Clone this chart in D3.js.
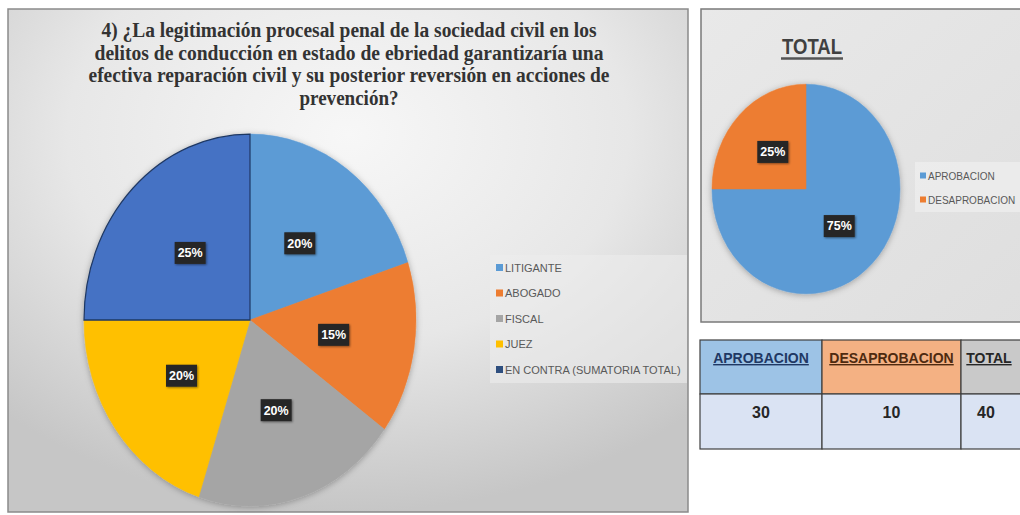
<!DOCTYPE html>
<html>
<head>
<meta charset="utf-8">
<script src="https://cdn.jsdelivr.net/npm/d3@7"></script>
<style>
  body { margin: 0; background: #fff; }
  svg { display: block; }
</style>
</head>
<body>
<div id="chart"></div>
<script>
// data
const titleLines = [
  "4) ¿La legitimación procesal penal de la sociedad civil en los",
  "delitos de conducción en estado de ebriedad garantizaría una",
  "efectiva reparación civil y su posterior reversión en acciones de",
  "prevención?"
];
const titleWidths = [495, 509, 521, 99];
const roles = ["LITIGANTE", "ABOGADO", "FISCAL", "JUEZ", "EN CONTRA (SUMATORIA TOTAL)"];
const roleCounts = [8, 6, 8, 8, 10];
const roleColors = ["#5b9bd5", "#ed7d31", "#a5a5a5", "#ffc000", "#4472c4"];

const totalTitle = "TOTAL";
const totalCats = ["APROBACION", "DESAPROBACION"];
const totalCounts = [30, 10];
const totalColors = ["#5b9bd5", "#ed7d31"];

const tableHeaders = ["APROBACION", "DESAPROBACION", "TOTAL"];
const tableValues = [totalCounts[0], totalCounts[1], d3.sum(totalCounts)];

const W = 1020, H = 515;
const svg = d3.select("#chart").append("svg").attr("width", W).attr("height", H);
const defs = svg.append("defs");

// left panel background
const rg = defs.append("radialGradient").attr("id", "bgLeft")
  .attr("cx", "50%").attr("cy", "25%").attr("r", "75%");
rg.append("stop").attr("offset", "0%").attr("stop-color", "#f7f7f7");
rg.append("stop").attr("offset", "55%").attr("stop-color", "#e7e7e7");
rg.append("stop").attr("offset", "100%").attr("stop-color", "#c6c6c6");

const lg = defs.append("linearGradient").attr("id", "bgRight")
  .attr("x1", "0%").attr("y1", "0%").attr("x2", "100%").attr("y2", "100%");
lg.append("stop").attr("offset", "0%").attr("stop-color", "#e9e9e9");
lg.append("stop").attr("offset", "100%").attr("stop-color", "#dedede");

const sh = defs.append("filter").attr("id", "shadow")
  .attr("x", "-20%").attr("y", "-20%").attr("width", "140%").attr("height", "140%");
sh.append("feDropShadow").attr("dx", 0).attr("dy", 1).attr("stdDeviation", 3)
  .attr("flood-color", "#000").attr("flood-opacity", 0.3);

const boxSh = defs.append("filter").attr("id", "boxShadow")
  .attr("x", "-30%").attr("y", "-30%").attr("width", "160%").attr("height", "160%");
boxSh.append("feDropShadow").attr("dx", 1).attr("dy", 1).attr("stdDeviation", 1.2)
  .attr("flood-color", "#000").attr("flood-opacity", 0.45);

// ---------- left panel ----------
svg.append("rect")
  .attr("x", 8).attr("y", 9).attr("width", 680).attr("height", 503)
  .attr("fill", "url(#bgLeft)").attr("stroke", "#8a8a8a").attr("stroke-width", 1.5);

svg.append("g").selectAll("text")
  .data(titleLines)
  .join("text")
  .attr("x", 349)
  .attr("y", (d, i) => 37 + i * 22.5)
  .attr("text-anchor", "middle")
  .attr("font-family", "'Liberation Serif', 'Times New Roman', serif")
  .attr("font-weight", "bold")
  .attr("font-size", 20)
  .attr("textLength", (d, i) => titleWidths[i])
  .attr("lengthAdjust", "spacingAndGlyphs")
  .attr("fill", "#333")
  .text(d => d);

function drawPie(g, labels, values, colors, r, sy, labelK, outline) {
  const pie = d3.pie().sort(null).value(d => d)(values);
  const arc = d3.arc().innerRadius(0).outerRadius(r);
  const labelArc = d3.arc().innerRadius(labelK * r).outerRadius(labelK * r);
  const total = d3.sum(values);

  const shape = g.append("g").attr("transform", `scale(1,${sy})`)
    .attr("filter", "url(#shadow)");
  shape.selectAll("path")
    .data(pie)
    .join("path")
    .attr("d", arc)
    .attr("fill", (d, i) => colors[i])
    .attr("stroke", (d, i) => outline[i] ? "#1f3864" : colors[i])
    .attr("stroke-width", (d, i) => outline[i] ? 1.2 : 0.5);

  const lab = g.selectAll("g.lab")
    .data(pie)
    .join("g")
    .attr("class", "lab")
    .attr("transform", d => {
      const c = labelArc.centroid(d);
      return `translate(${c[0]},${c[1] * sy})`;
    });
  lab.append("rect")
    .attr("x", -15.5).attr("y", -11).attr("width", 31).attr("height", 22)
    .attr("fill", "#262626").attr("filter", "url(#boxShadow)");
  lab.append("text")
    .attr("text-anchor", "middle").attr("dy", "0.36em")
    .attr("font-family", "'Liberation Sans', sans-serif")
    .attr("font-weight", "bold").attr("font-size", 12)
    .attr("textLength", 25).attr("lengthAdjust", "spacingAndGlyphs")
    .attr("fill", "#fff")
    .text(d => Math.round(d.data / total * 100) + "%");
}

const pieL = svg.append("g").attr("transform", "translate(250,320)");
drawPie(pieL, roles, roleCounts, roleColors, 166, 1.12, 0.51, [false, false, false, false, true]);

// left legend
svg.append("rect").attr("x", 490).attr("y", 255).attr("width", 197).attr("height", 128)
  .attr("fill", "#ececec").attr("opacity", 0.6);
const legL = svg.append("g").selectAll("g")
  .data(roles)
  .join("g")
  .attr("transform", (d, i) => `translate(496,${268 + i * 25.5})`);
legL.append("rect").attr("x", 0).attr("y", -4).attr("width", 7).attr("height", 7)
  .attr("fill", (d, i) => roleColors[i] === "#4472c4" ? "#2f4f7f" : roleColors[i]);
legL.append("text").attr("x", 9).attr("dy", "0.35em")
  .attr("font-family", "'Liberation Sans', sans-serif")
  .attr("font-size", 11).attr("fill", "#595959")
  .text(d => d);

// ---------- right top panel ----------
svg.append("rect")
  .attr("x", 701).attr("y", 9).attr("width", 340).attr("height", 313)
  .attr("fill", "url(#bgRight)").attr("stroke", "#7a7a7a").attr("stroke-width", 1.5);

svg.append("text")
  .attr("x", 812).attr("y", 54)
  .attr("text-anchor", "middle")
  .attr("font-family", "'Liberation Sans', sans-serif")
  .attr("font-weight", "bold").attr("font-size", 22)
  .attr("textLength", 60).attr("lengthAdjust", "spacingAndGlyphs")
  .attr("fill", "#404040")
  .text(totalTitle);
svg.append("line").attr("x1", 781).attr("x2", 843).attr("y1", 58.5).attr("y2", 58.5)
  .attr("stroke", "#555").attr("stroke-width", 2.5);

const pieR = svg.append("g").attr("transform", "translate(806,189)");
drawPie(pieR, totalCats, totalCounts, totalColors, 94, 1.115, 0.5, [false, false]);

svg.append("rect").attr("x", 915).attr("y", 162).attr("width", 110).attr("height", 50)
  .attr("fill", "#f0f0f0").attr("opacity", 0.7);
const legR = svg.append("g").selectAll("g")
  .data(totalCats)
  .join("g")
  .attr("transform", (d, i) => `translate(920,${176 + i * 24})`);
legR.append("rect").attr("x", 0).attr("y", -3.5).attr("width", 6).attr("height", 6)
  .attr("fill", (d, i) => totalColors[i]);
legR.append("text").attr("x", 8).attr("dy", "0.35em")
  .attr("font-family", "'Liberation Sans', sans-serif")
  .attr("font-size", 10).attr("fill", "#595959")
  .text(d => d);

// ---------- table ----------
const colX = [700, 822, 961, 1040];
const headFill = ["#9dc3e6", "#f4b183", "#c9c9c9"];
const headText = ["#1f3864", "#4e2a10", "#262626"];
const tY0 = 340, tY1 = 394, tY2 = 449;
const tbl = svg.append("g");
tbl.selectAll("rect.h")
  .data(tableHeaders)
  .join("rect").attr("class", "h")
  .attr("x", (d, i) => colX[i]).attr("y", tY0)
  .attr("width", (d, i) => colX[i + 1] - colX[i]).attr("height", tY1 - tY0)
  .attr("fill", (d, i) => headFill[i]).attr("stroke", "#404040").attr("stroke-width", 1.2);
tbl.selectAll("rect.b")
  .data(tableValues)
  .join("rect").attr("class", "b")
  .attr("x", (d, i) => colX[i]).attr("y", tY1)
  .attr("width", (d, i) => colX[i + 1] - colX[i]).attr("height", tY2 - tY1)
  .attr("fill", "#dae3f3").attr("stroke", "#404040").attr("stroke-width", 1.2);
tbl.selectAll("text.h")
  .data(tableHeaders)
  .join("text").attr("class", "h")
  .attr("x", (d, i) => i < 2 ? (colX[i] + colX[i + 1]) / 2 : colX[i] + 28)
  .attr("y", 363)
  .attr("text-anchor", "middle")
  .attr("font-family", "'Liberation Sans', sans-serif")
  .attr("font-weight", "bold").attr("font-size", 14)
  .attr("text-decoration", "underline")
  .attr("fill", (d, i) => headText[i])
  .text(d => d);
tbl.selectAll("text.b")
  .data(tableValues)
  .join("text").attr("class", "b")
  .attr("x", (d, i) => i < 2 ? (colX[i] + colX[i + 1]) / 2 : colX[i] + 25)
  .attr("y", 418)
  .attr("text-anchor", "middle")
  .attr("font-family", "'Liberation Sans', sans-serif")
  .attr("font-weight", "bold").attr("font-size", 16)
  .attr("fill", "#262626")
  .text(d => d);
</script>
</body>
</html>
